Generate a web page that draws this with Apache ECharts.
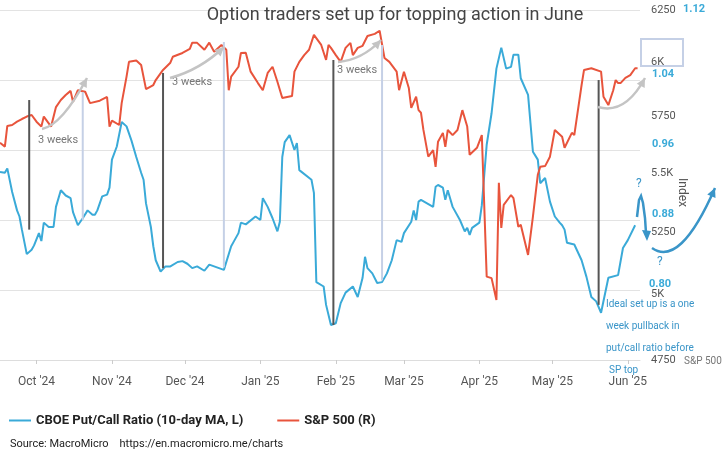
<!DOCTYPE html>
<html><head><meta charset="utf-8">
<script src="https://cdn.jsdelivr.net/npm/echarts@6/dist/echarts.min.js"></script>
<style>html,body{margin:0;padding:0;background:#fff}#c{width:723px;height:460px}</style>
</head><body><div id="c"></div>
<script>
// day offsets from 2024-09-15
const spDays=[1,3,4,6,8,10,12,14,16,18,19,22,24,26,28,30,31,33,36,38,42,45,46,47,50,51,53,54,57,59,61,64,65,68,71,72,76,79,80,82,85,87,89,92,94,95,96,99,100,102,104,107,109,111,113,115,117,121,122,124,126,128,130,133,135,136,137,139,141,143,145,146,148,150,152,155,157,159,161,164,165,167,169,170,172,173,174,175,177,179,180,181,183,184,185,187,189,191,193,194,197,199,201,203,205,206,207,208,211,212,214,215,218,220,222,223,225,227,229,232,233,236,237,240,241,244,248,249,251,253,254,255,256,258,260,262,263];
const spValues=[5632,5615,5707,5711,5726,5738,5749,5756,5726,5704,5749,5704,5792,5824,5847,5866,5816,5869,5862,5810,5821,5838,5704,5731,5711,5810,5932,6001,6007,5986,5874,5893,5916,5963,5997,6025,6043,6062,6092,6091,6058,6092,6049,6081,6058,5869,5932,5978,6043,6044,5955,5902,5869,5949,5978,5908,5833,5842,5955,6001,6033,6058,6129,6081,6010,6081,6067,6033,6001,6067,6091,6033,6067,6077,6124,6134,6149,6019,6001,5955,5869,5955,5879,5788,5839,5778,5766,5689,5571,5600,5527,5637,5676,5614,5689,5666,5689,5778,5704,5579,5610,5666,5071,5065,4979,5458,5268,5364,5406,5393,5273,5281,5158,5315,5492,5527,5530,5571,5689,5659,5610,5676,5666,5893,5963,5971,5955,5839,5801,5869,5916,5902,5902,5926,5939,5971,5971];
const pcDays=[1,3,4,6,8,9,10,12,14,15,17,18,19,21,23,24,26,28,30,31,33,35,37,39,40,41,43,45,46,47,49,51,53,55,57,59,60,61,63,64,65,67,69,71,74,76,78,80,82,85,87,89,91,93,96,97,99,100,102,106,108,109,111,113,115,116,117,118,120,122,123,124,129,130,131,134,135,137,139,141,143,146,148,150,151,152,154,156,158,160,162,164,166,167,170,171,172,173,174,179,180,181,183,184,185,187,190,192,193,194,195,198,199,201,203,205,207,209,211,212,214,215,218,220,222,223,225,227,229,231,232,233,234,237,240,242,244,246,248,251,255,257,259,262];
const pcValues=[0.935,0.934,0.939,0.912,0.891,0.884,0.869,0.841,0.846,0.851,0.865,0.856,0.877,0.872,0.872,0.895,0.914,0.908,0.905,0.889,0.874,0.882,0.891,0.886,0.886,0.891,0.907,0.909,0.917,0.949,0.964,0.992,0.987,0.971,0.952,0.934,0.926,0.899,0.872,0.850,0.834,0.821,0.827,0.827,0.832,0.833,0.830,0.825,0.827,0.822,0.829,0.827,0.825,0.823,0.850,0.855,0.865,0.877,0.875,0.884,0.880,0.905,0.895,0.882,0.867,0.878,0.952,0.969,0.977,0.960,0.968,0.937,0.926,0.911,0.809,0.804,0.783,0.760,0.762,0.785,0.797,0.804,0.792,0.814,0.838,0.825,0.819,0.808,0.809,0.819,0.834,0.857,0.855,0.865,0.878,0.891,0.880,0.901,0.903,0.895,0.918,0.920,0.917,0.903,0.914,0.895,0.880,0.867,0.871,0.863,0.871,0.877,0.897,0.966,1.002,1.053,1.077,1.053,1.055,1.069,1.069,1.042,1.023,0.958,0.949,0.922,0.928,0.901,0.884,0.877,0.874,0.869,0.854,0.852,0.834,0.815,0.792,0.787,0.774,0.814,0.817,0.848,0.857,0.874];
const spTicks=[4750,5000,5250,5500,5750,6000,6250];
const spTickLabels=['4750','5K','5250','5.5K','5750','6K','6250'];
const pcTicks=[0.80,0.88,0.96,1.04];
const pcTickLabels=['0.80','0.88','0.96','1.04'];
// connector lines: [day, S&P value, P/C value, dark?]
const connectors=[[13,5824,0.869,1],[35,5861,0.880,0],[68,5949,0.825,1],[93,6095,0.826,0],[138,6010,0.760,1],[158,6081,0.811,0],[247,5916,0.783,1]];
const base=Date.UTC(2024,8,15);
const D=d=>base+d*86400000;
const months=['Jan','Feb','Mar','Apr','May','Jun','Jul','Aug','Sep','Oct','Nov','Dec'];
const chart=echarts.init(document.getElementById('c'));
const BLUE='#3aaad8',RED='#e8543c';
chart.setOption({
  animation:false,
  title:{text:'Option traders set up for topping action in June',left:390,top:1,textAlign:'center',textStyle:{fontSize:18,fontWeight:'normal',color:'#444',fontFamily:'Roboto'}},
  grid:{left:0,right:83,top:10,bottom:100},
  xAxis:{type:'time',min:D(1),max:D(264),minInterval:28*86400000,maxInterval:31*86400000,
    axisLine:{lineStyle:{color:'#ddd'}},axisTick:{show:true,length:4,lineStyle:{color:'#ccc'}},splitLine:{show:false},
    axisLabel:{color:'#555',fontSize:12,margin:16,fontFamily:'Roboto',formatter:v=>{const d=new Date(v);return months[d.getUTCMonth()]+" '"+String(d.getUTCFullYear()).slice(2);}}},
  yAxis:[
    {type:'value',position:'right',min:0.72,max:1.12,interval:0.08,
     axisLabel:{show:false},splitLine:{lineStyle:{color:'#e3e3e3'}},axisLine:{show:false},axisTick:{show:false}},
    {type:'log',position:'right',min:4750,max:6250,
     axisLabel:{show:false},splitLine:{show:false},axisLine:{show:false},axisTick:{show:false}}
  ],
  legend:{bottom:28,left:4,itemWidth:22,itemHeight:2,icon:'rect',itemGap:34,textStyle:{fontSize:13,fontWeight:'bold',color:'#222',fontFamily:'Roboto'}},
  series:[
    {name:'CBOE Put/Call Ratio (10-day MA, L)',type:'line',yAxisIndex:0,showSymbol:false,color:BLUE,lineStyle:{width:2,color:BLUE},data:pcDays.map((d,i)=>[D(d),pcValues[i]])},
    {name:'S&P 500 (R)',type:'line',yAxisIndex:1,showSymbol:false,color:RED,lineStyle:{width:2,color:RED},data:spDays.map((d,i)=>[D(d),spValues[i]])}
  ]
});
const g=[];
spTicks.forEach((t,i)=>{
  const p=chart.convertToPixel({xAxisIndex:0,yAxisIndex:1},[D(264),t]);
  g.push({type:'text',x:651,y:p[1],style:{text:spTickLabels[i],fill:'#555',font:'11px Roboto',verticalAlign:'middle'}});
});
pcTicks.forEach((t,i)=>{
  const p=chart.convertToPixel({xAxisIndex:0,yAxisIndex:0},[D(264),t]);
  g.push({type:'text',x:i===0?649:652,y:p[1]-6,style:{text:pcTickLabels[i],fill:BLUE,font:'bold 11px Roboto',verticalAlign:'middle'}});
});
connectors.forEach(c=>{
  const p1=chart.convertToPixel({xAxisIndex:0,yAxisIndex:1},[D(c[0]),c[1]]);
  const p2=chart.convertToPixel({xAxisIndex:0,yAxisIndex:0},[D(c[0]),c[2]]);
  g.push({type:'line',z:5,shape:{x1:p1[0],y1:p1[1],x2:p2[0],y2:p2[1]},style:{stroke:c[3]?'#555':'#c5d0e6',lineWidth:2}});
});
function arrow(x1,y1,cx,cy,x2,y2,col,w){
  g.push({type:'bezierCurve',z:6,shape:{x1,y1,cpx1:cx,cpy1:cy,x2,y2},style:{stroke:col,lineWidth:w,fill:null}});
  const a=Math.atan2(y2-cy,x2-cx),L=9,h=4.5;
  const bx=x2-L*Math.cos(a),by=y2-L*Math.sin(a);
  g.push({type:'polygon',z:6,shape:{points:[[x2,y2],[bx+h*Math.sin(a),by-h*Math.cos(a)],[bx-h*Math.sin(a),by+h*Math.cos(a)]]},style:{fill:col}});
}
const GR='#c4c4c4';
arrow(42,129,62,125,87,78,GR,2.5);
arrow(170,78,200,70,224,47,GR,2.5);
arrow(338,62,362,60,381,40,GR,2.5);
arrow(598,107,625,115,645,78,GR,2.5);
const AB='#3a95c8';
g.push({type:'text',left:38,top:135,style:{text:'3 weeks',fill:'#777',font:'11px Roboto'}});
g.push({type:'text',left:172,top:77,style:{text:'3 weeks',fill:'#777',font:'11px Roboto'}});
g.push({type:'text',left:337,top:65,style:{text:'3 weeks',fill:'#777',font:'11px Roboto'}});
g.push({type:'rect',shape:{x:641,y:39,width:42,height:27},style:{stroke:'#c5d0e6',lineWidth:2,fill:null}});
g.push({type:'text',left:683,top:4,style:{text:'1.12',fill:BLUE,font:'bold 11px Roboto'}});
g.push({type:'text',left:636,top:178,style:{text:'?',fill:AB,font:'12px Roboto'}});
g.push({type:'text',left:657,top:256,style:{text:'?',fill:AB,font:'12px Roboto'}});
g.push({type:'polyline',z:6,shape:{points:[[637,217],[639,200],[641,196],[643,203],[645,218],[646,233]]},style:{stroke:AB,lineWidth:2.5,fill:null}});
g.push({type:'polygon',z:6,shape:{points:[[647,241],[642,230],[651,231]]},style:{fill:AB}});
arrow(652,248,680,268,715,188,AB,2.5);
g.push({type:'text',x:688,y:178,rotation:-Math.PI/2,style:{text:'Index',fill:'#555',font:'12px Roboto'}});
g.push({type:'text',left:684,top:356,style:{text:'S&P 500',fill:'#777',font:'10px Roboto'}});
['Ideal set up is a one','week pullback in','put/call ratio before','SP top'].forEach((t,i)=>{
  g.push({type:'text',left:i===3?609:606,top:299+i*22,style:{text:t,fill:AB,font:'10px Roboto'}});
});
g.push({type:'text',left:10,top:439,style:{text:'Source: MacroMicro    https://en.macromicro.me/charts',fill:'#222',font:'11px Roboto'}});
chart.setOption({graphic:g});
</script></body></html>
